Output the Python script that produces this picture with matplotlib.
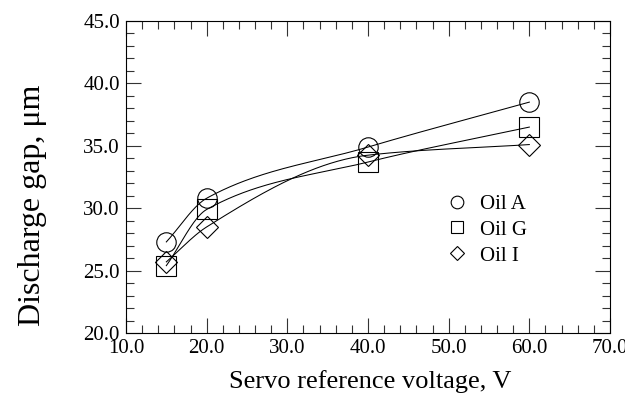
import matplotlib
matplotlib.use("Agg")
import matplotlib.pyplot as plt
from matplotlib.ticker import MultipleLocator, FormatStrFormatter
import numpy as np

plt.rcParams["font.family"] = ["Liberation Serif", "DejaVu Serif"]

# --- data ---
voltage = [15, 20, 40, 60]
oil_a = [27.3, 30.8, 34.9, 38.5]
oil_g = [25.4, 29.9, 33.7, 36.5]
oil_i = [25.7, 28.5, 34.25, 35.1]
labels = ["Oil A", "Oil G", "Oil I"]
markers = ["o", "s", "D"]


def pchip(x, y, xs):
    """monotone cubic (Fritsch-Carlson) through the points"""
    x = np.asarray(x, float); y = np.asarray(y, float)
    h = np.diff(x); d = np.diff(y) / h
    m = np.zeros_like(y)
    m[0], m[-1] = d[0], d[-1]
    for i in range(1, len(x) - 1):
        if d[i - 1] * d[i] > 0:
            w1 = 2 * h[i] + h[i - 1]; w2 = h[i] + 2 * h[i - 1]
            m[i] = (w1 + w2) / (w1 / d[i - 1] + w2 / d[i])
    k = np.clip(np.searchsorted(x, xs) - 1, 0, len(x) - 2)
    t = (xs - x[k]) / h[k]
    h00 = 2 * t**3 - 3 * t**2 + 1; h10 = t**3 - 2 * t**2 + t
    h01 = -2 * t**3 + 3 * t**2; h11 = t**3 - t**2
    return h00 * y[k] + h10 * h[k] * m[k] + h01 * y[k + 1] + h11 * h[k] * m[k + 1]


fig = plt.figure(figsize=(6.25, 3.96), dpi=100)
ax = fig.add_axes([0.2016, 0.159, 0.7744, 0.788])

xs = np.linspace(voltage[0], voltage[-1], 200)
for ys, lab, m in zip([oil_a, oil_g, oil_i], labels, markers):
    ax.plot(xs, pchip(voltage, ys, xs), color="black", lw=0.75)
    ms = 14 if m != "D" else 11
    ax.plot(voltage, ys, ls="none", marker=m, ms=ms, mfc="none", mec="black",
            mew=0.8, label=lab)

ax.set_xlim(10, 70)
ax.set_ylim(20, 45)
ax.xaxis.set_major_locator(MultipleLocator(10))
ax.xaxis.set_minor_locator(MultipleLocator(2))
ax.yaxis.set_major_locator(MultipleLocator(5))
ax.yaxis.set_minor_locator(MultipleLocator(1))
ax.xaxis.set_major_formatter(FormatStrFormatter("%.1f"))
ax.yaxis.set_major_formatter(FormatStrFormatter("%.1f"))
ax.tick_params(which="both", direction="in", top=True, right=True,
               labelsize=15, width=0.8, color="#333333")
ax.tick_params(which="major", length=11, pad=4.5)
ax.tick_params(which="minor", length=5.5)
for s in ax.spines.values():
    s.set_linewidth(0.8)

ax.set_xlabel("Servo reference voltage, V", fontsize=19)
ax.xaxis.set_label_coords(0.504, -0.12)
ax.set_ylabel("Discharge gap, μm", fontsize=23)
ax.yaxis.set_label_coords(-0.163, 0.41)

ax.legend(loc="upper left", bbox_to_anchor=(0.64, 0.478), frameon=False,
          fontsize=15, handlelength=1.0, handletextpad=0.6, labelspacing=0.3,
          borderpad=0, markerscale=0.65)

plt.savefig("out.png", dpi=100)
